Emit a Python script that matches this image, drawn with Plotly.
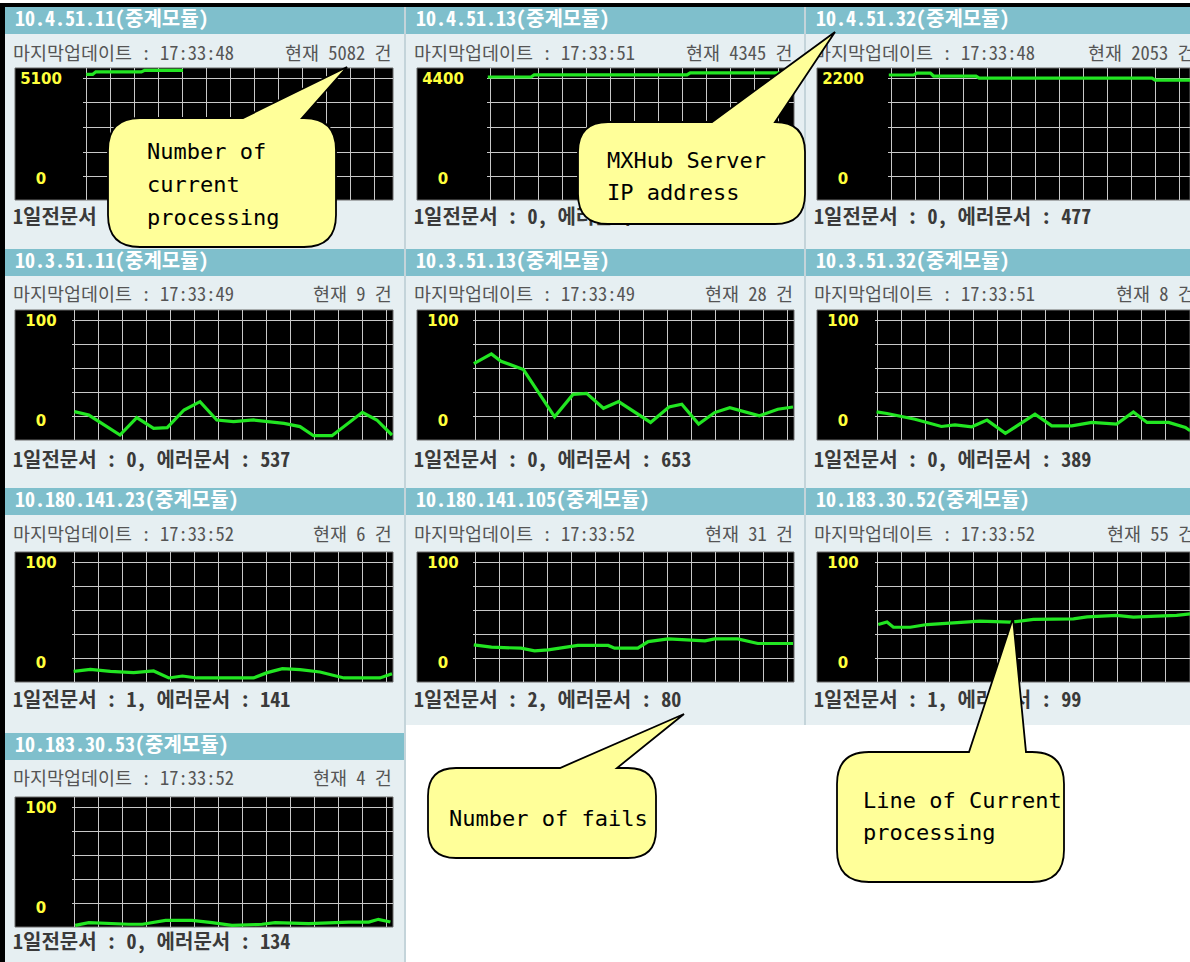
import plotly.graph_objects as go

W, H = 1190, 962

# ---------------- data ----------------
ips = ["10.4.51.11", "10.4.51.13", "10.4.51.32",
       "10.3.51.11", "10.3.51.13", "10.3.51.32",
       "10.180.141.23", "10.180.141.105", "10.183.30.52",
       "10.183.30.53"]
updated = ["17:33:48", "17:33:51", "17:33:48",
           "17:33:49", "17:33:49", "17:33:51",
           "17:33:52", "17:33:52", "17:33:52",
           "17:33:52"]
current = [5082, 4345, 2053, 9, 28, 8, 6, 31, 55, 4]
day_docs = [0, 0, 0, 0, 0, 0, 1, 2, 1, 0]
error_docs = [512, 465, 477, 537, 653, 389, 141, 80, 99, 134]
scale_max = [5100, 4400, 2200, 100, 100, 100, 100, 100, 100, 100]

# time-step index (one step ~ 1/3 of a grid column) and values
x_a = [0.4, 1.2, 1.6, 7.3, 7.7, 12.5]
y_a = [4850, 4850, 4950, 4950, 5010, 5010]
x_b = [0.1, 5.5, 5.9, 25.0, 25.4, 38.3]
y_b = [4100, 4100, 4170, 4170, 4240, 4240]
x_c = [0.1, 3.2, 3.6, 5.3, 5.7, 11.0, 11.4, 33.0, 33.4, 37.8]
y_c = [2083, 2083, 2116, 2116, 2066, 2066, 2032, 2032, 1998, 1998]
x_d = [0.3, 2.1, 6.0, 8.1, 10.2, 11.9, 14.0, 16.0, 18.1, 20.2, 22.7, 26.5, 28.5, 30.2, 32.5, 36.3, 38.1, 40.0]
y_d = [21.8, 19.2, 3.8, 17.2, 9.0, 9.5, 23.1, 29.5, 15.4, 14.1, 15.4, 12.8, 10.3, 3.3, 3.3, 21.3, 15.4, 3.8]
x_e = [0.1, 2.3, 3.5, 6.3, 10.2, 12.5, 14.2, 16.3, 18.2, 22.2, 24.5, 26.1, 28.2, 30.2, 32.1, 35.8, 38.1, 40.0]
y_e = [58.8, 66.2, 60.6, 54.2, 17.8, 35.1, 35.9, 24.4, 29.5, 13.5, 25.4, 27.5, 12.2, 21.1, 24.9, 18.6, 23.7, 25.4]
x_f = [0.2, 1.5, 5.0, 8.3, 10.0, 12.1, 14.0, 16.3, 20.0, 22.1, 24.6, 27.1, 30.2, 32.3, 34.0, 36.7, 38.8, 39.4]
y_f = [21.6, 20.4, 16.0, 10.4, 11.7, 10.2, 15.3, 5.1, 19.8, 10.9, 10.9, 13.5, 12.2, 21.6, 13.5, 13.5, 9.7, 7.1]
x_g = [0.2, 2.3, 4.8, 7.7, 10.2, 12.1, 13.8, 15.6, 22.7, 24.4, 26.3, 28.5, 31.0, 34.0, 38.5, 40.0]
y_g = [8.2, 9.7, 8.2, 7.2, 8.5, 3.1, 4.6, 3.1, 3.1, 7.2, 10.3, 9.5, 7.7, 3.1, 3.1, 6.4]
x_h = [0.1, 2.3, 6.0, 7.7, 9.4, 11.0, 13.1, 16.9, 17.7, 20.6, 21.9, 24.4, 29.0, 30.2, 33.1, 35.6, 40.0]
y_h = [28.6, 26.8, 26.0, 24.0, 24.7, 26.0, 28.1, 28.1, 26.0, 26.0, 31.1, 33.2, 31.6, 33.2, 33.2, 29.6, 29.6]
x_i = [0.4, 1.5, 2.3, 4.4, 6.5, 10.2, 13.1, 16.9, 19.8, 24.8, 26.5, 30.2, 32.3, 35.2, 37.7, 39.6]
y_i = [44.2, 46.2, 42.1, 42.1, 44.2, 46.0, 46.8, 46.0, 48.1, 48.6, 50.1, 51.2, 49.9, 50.6, 51.2, 52.5]
x_j = [0.4, 2.1, 7.1, 8.8, 11.7, 15.0, 17.5, 20.0, 23.75, 25.4, 29.6, 31.7, 34.6, 37.1, 38.3, 39.8]
y_j = [1.3, 3.3, 2.1, 2.1, 5.1, 5.1, 3.3, 1.3, 2.1, 3.3, 2.6, 3.3, 3.8, 3.8, 5.9, 3.8]

series_x = [x_a, x_b, x_c, x_d, x_e, x_f, x_g, x_h, x_i, x_j]
series_y = [y_a, y_b, y_c, y_d, y_e, y_f, y_g, y_h, y_i, y_j]

callout_texts = [["Number of", "current", "processing"],
                 ["MXHub Server", "IP address"],
                 ["Number of fails"],
                 ["Line of Current", "processing"]]

# ---------------- layout constants (pixels) ----------------
col_left = [5, 406, 806]
col_right = [404, 804, W]
black_left = [15, 417, 817]
black_right = [393, 794, W]
info_right = [394, 795, 1197]
grid_left = [[83, 487, 888], [72, 473, 875], [72, 473, 875], [72, 473, 875]]
x_tick0 = [0.45, 0.3, 0.3, 0.3]
header_top = [7, 249, 488, 733]
header_h = 27
info_cy = [55, 296, 536, 780]
chart_top = [68, 310, 552, 797]
chart_bot = [200, 440, 682, 927]
bottom_cy = [219, 462, 702, 944]
PX_STEP = 8.0

PANEL_BG = "#e6eff2"
HEADER_BG = "#7fbfcc"
GRID = "#c8c8c8"
GREEN = "#22e622"
YELLOW = "#ffff3c"
KFONT = "Noto Sans Mono CJK KR, Noto Sans CJK KR, sans-serif"
MONO = "DejaVu Sans Mono, monospace"

fig = go.Figure()
shapes = []
annotations = []


def px(x):
    return x / W


def py(y):
    return 1 - y / H


def rect(x0, y0, x1, y1, fill, line_color=None, lw=0, layer="below"):
    shapes.append(dict(type="rect", xref="paper", yref="paper",
                       x0=px(x0), x1=px(x1), y0=py(y1), y1=py(y0),
                       fillcolor=fill, layer=layer,
                       line=dict(color=line_color or fill, width=lw)))


def vline(x, y0, y1, color, width):
    shapes.append(dict(type="line", xref="paper", yref="paper",
                       x0=px(x), x1=px(x), y0=py(y1), y1=py(y0),
                       line=dict(color=color, width=width), layer="below"))


# backgrounds
rect(0, 3, 5, H, "black")
rect(0, 3, W, 7, "black")
rect(5, 7, W, 725, PANEL_BG)
rect(5, 725, 404, H, PANEL_BG)

for i in range(10):
    r, c = divmod(i, 3)
    rect(col_left[c], header_top[r], col_right[c], header_top[r] + header_h, HEADER_BG)
    rect(black_left[c], chart_top[r], black_right[c], chart_bot[r], "black", "#6a6a6a", 1)

vline(405, 7, H, "#c4d4da", 2)
vline(805, 7, 725, "#c4d4da", 2)

# chart axes and lines
for i in range(10):
    r, c = divmod(i, 3)
    n = i + 1
    gl, gr = grid_left[r][c], black_right[c]
    gt, gb = chart_top[r], chart_bot[r]
    xid = "x" if n == 1 else f"x{n}"
    yid = "y" if n == 1 else f"y{n}"
    common = dict(showgrid=True, gridcolor=GRID, gridwidth=1, showticklabels=False,
                  ticks="", zeroline=False, showline=False, fixedrange=True)
    fig.layout["xaxis" if n == 1 else f"xaxis{n}"] = dict(
        domain=[px(gl), px(gr)], range=[0, (gr - gl) / PX_STEP], anchor=yid,
        tick0=x_tick0[r], dtick=3, **common)
    fig.layout["yaxis" if n == 1 else f"yaxis{n}"] = dict(
        domain=[py(gb), py(gt)], range=[0, scale_max[i]], anchor=xid,
        tick0=0.177 * scale_max[i], dtick=0.1865 * scale_max[i], **common)
    fig.add_trace(go.Scatter(x=series_x[i], y=series_y[i], mode="lines",
                             line=dict(color=GREEN, width=3.2),
                             xaxis=xid, yaxis=yid, hoverinfo="skip", showlegend=False))

# overlay axis for panel texts (pixel coordinates)
fig.layout["xaxis11"] = dict(domain=[0, 1], range=[0, W], visible=False, fixedrange=True, anchor="y11")
fig.layout["yaxis11"] = dict(domain=[0, 1], range=[H, 0], visible=False, fixedrange=True, anchor="x11")


def text_trace(xs, ys, texts, pos, size, color, weight="normal", family=KFONT):
    fig.add_trace(go.Scatter(x=xs, y=ys, text=texts, mode="text", textposition=pos,
                             textfont=dict(family=family, size=size, color=color, weight=weight),
                             xaxis="x11", yaxis="y11", hoverinfo="skip", showlegend=False,
                             cliponaxis=False))


rows = [divmod(i, 3) for i in range(10)]
text_trace([col_left[c] + 10 for r, c in rows], [header_top[r] + 14 for r, c in rows],
           [f"{ip}(중계모듈)" for ip in ips], "middle right", 20, "white", "bold")
text_trace([col_left[c] + 8 for r, c in rows], [info_cy[r] for r, c in rows],
           [f"마지막업데이트 : {t}" for t in updated], "middle right", 18.5, "#555555")
text_trace([col_left[c] + 8 for r, c in rows], [bottom_cy[r] for r, c in rows],
           [f"1일전문서 : {d}, 에러문서 : {e}" for d, e in zip(day_docs, error_docs)],
           "middle right", 20, "#3a3a3a", "bold")
text_trace([black_left[c] + 26 for r, c in rows], [chart_top[r] + 12 for r, c in rows],
           [str(m) for m in scale_max], "middle center", 15, YELLOW, "bold",
           "DejaVu Sans, sans-serif")
text_trace([black_left[c] + 26 for r, c in rows], [chart_top[r] + 112 for r, c in rows],
           ["0"] * 10, "middle center", 15, YELLOW, "bold", "DejaVu Sans, sans-serif")

# "현재 N 건" right-aligned (annotations so the right column can run past the edge)
for i, (r, c) in enumerate(rows):
    annotations.append(dict(xref="paper", yref="paper", x=px(info_right[c]), y=py(info_cy[r] - 3),
                            xanchor="right", yanchor="middle", showarrow=False,
                            text=f"현재 {current[i]} 건",
                            font=dict(family=KFONT, size=18.5, color="#555555")))


# callout bubbles
def bubble(x0, y0, x1, y1, rr, ta, tb, tip):
    d = (f"M {px(x0 + rr)},{py(y0)} L {px(ta)},{py(y0)} L {px(tip[0])},{py(tip[1])} "
         f"L {px(tb)},{py(y0)} L {px(x1 - rr)},{py(y0)} "
         f"Q {px(x1)},{py(y0)} {px(x1)},{py(y0 + rr)} L {px(x1)},{py(y1 - rr)} "
         f"Q {px(x1)},{py(y1)} {px(x1 - rr)},{py(y1)} L {px(x0 + rr)},{py(y1)} "
         f"Q {px(x0)},{py(y1)} {px(x0)},{py(y1 - rr)} L {px(x0)},{py(y0 + rr)} "
         f"Q {px(x0)},{py(y0)} {px(x0 + rr)},{py(y0)} Z")
    shapes.append(dict(type="path", xref="paper", yref="paper", path=d,
                       fillcolor="#ffff99", line=dict(color="black", width=1.8),
                       layer="above"))


bubbles = [
    dict(box=(108, 118, 336, 247), r=32, base=(243, 302), tip=(347, 67), tx=145, ty=[151, 184, 218]),
    dict(box=(578, 122, 805, 224), r=30, base=(712, 775), tip=(835, 32), tx=605, ty=[160, 192]),
    dict(box=(428, 768, 656, 858), r=28, base=(560, 617), tip=(684, 714), tx=447, ty=[818]),
    dict(box=(837, 752, 1064, 882), r=32, base=(969, 1026), tip=(1013, 618), tx=861, ty=[800, 832]),
]
for b, lines in zip(bubbles, callout_texts):
    x0, y0, x1, y1 = b["box"]
    bubble(x0, y0, x1, y1, b["r"], b["base"][0], b["base"][1], b["tip"])
    for line, ty in zip(lines, b["ty"]):
        annotations.append(dict(xref="paper", yref="paper", x=px(b["tx"]), y=py(ty),
                                xanchor="left", yanchor="middle", showarrow=False,
                                text=line, font=dict(family=MONO, size=22, color="black")))

fig.update_layout(width=W, height=H, margin=dict(l=0, r=0, t=0, b=0, pad=0),
                  paper_bgcolor="white", plot_bgcolor="rgba(0,0,0,0)",
                  showlegend=False, shapes=shapes, annotations=annotations)

fig.write_html("out.html", config={"displayModeBar": False},
               post_script="document.body.style.margin='0';document.body.style.overflow='hidden';")
